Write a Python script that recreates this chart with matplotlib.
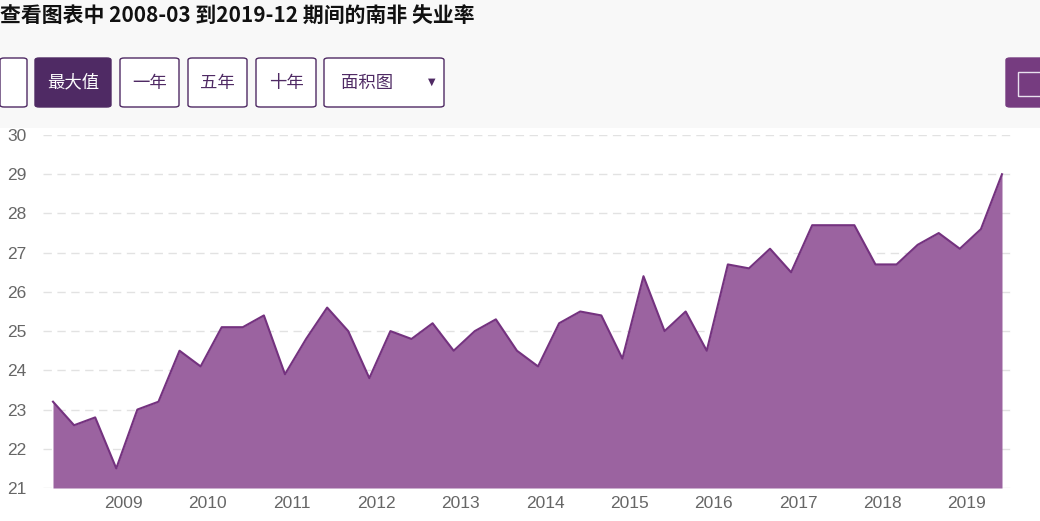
import matplotlib.pyplot as plt
from matplotlib.patches import FancyBboxPatch, Rectangle

plt.rcParams['font.family'] = ['Noto Sans CJK SC', 'DejaVu Sans']

# quarterly unemployment rate, South Africa, 2008Q1 .. 2019Q2
start_year, start_month = 2008, 3
rates = [23.2, 22.6, 22.8, 21.5, 23.0, 23.2, 24.5, 24.1,
         25.1, 25.1, 25.4, 23.9, 24.8, 25.6, 25.0, 23.8,
         25.0, 24.8, 25.2, 24.5, 25.0, 25.3, 24.5, 24.1,
         25.2, 25.5, 25.4, 24.3, 26.4, 25.0, 25.5, 24.5,
         26.7, 26.6, 27.1, 26.5, 27.7, 27.7, 27.7, 26.7,
         26.7, 27.2, 27.5, 27.1, 27.6, 29.0]
year_ticks = list(range(2009, 2020))
y_ticks = list(range(21, 31))
title = "查看图表中 2008-03 到2019-12 期间的南非 失业率"
buttons = ["最大值", "一年", "五年", "十年"]

# decimal-year position for each quarter
x = [start_year + (start_month - 1 + 3 * i) / 12 for i in range(len(rates))]

W, H = 1040, 521
fig = plt.figure(figsize=(W / 100, H / 100), dpi=100)
fig.patch.set_facecolor('#f8f8f8')

def px(x0, y0, w, h):
    # pixel box (top-left origin) -> figure fraction
    return x0 / W, 1 - (y0 + h) / H, w / W, h / H

# white chart panel
fig.patches.append(Rectangle(px(0, 128, W, H - 128)[:2], 1, (H - 128) / H,
                             transform=fig.transFigure, facecolor='white',
                             edgecolor='none', zorder=-5))

fig.text(0, 1 - 15 / H, title, fontsize=15, fontweight='bold',
         va='center', ha='left', color='#111111')

def button(x0, w, label, filled=False, color='#4f2a64'):
    bx, by, bw, bh = px(x0, 58, w, 49)
    fig.patches.append(FancyBboxPatch((bx, by), bw, bh,
                                      boxstyle='round,pad=0,rounding_size=0.004',
                                      transform=fig.transFigure,
                                      facecolor=color if filled else 'white',
                                      edgecolor=color, linewidth=1.0, zorder=1))
    if label:
        fig.text(bx + bw / 2, by + bh / 2, label, fontsize=12.5,
                 color='white' if filled else '#4f2a64',
                 ha='center', va='center', zorder=2)

button(0, 27, '')
button(35, 76, buttons[0], filled=True)
button(120, 59, buttons[1])
button(188, 59, buttons[2])
button(256, 60, buttons[3])
# dropdown
bx, by, bw, bh = px(324, 58, 120, 49)
fig.patches.append(FancyBboxPatch((bx, by), bw, bh,
                                  boxstyle='round,pad=0,rounding_size=0.004',
                                  transform=fig.transFigure, facecolor='white',
                                  edgecolor='#4f2a64', linewidth=1.0, zorder=1))
fig.text(367 / W, by + bh / 2, "面积图", fontsize=12.5, color='#4f2a64',
         ha='center', va='center')
fig.text(432 / W, by + bh / 2 + 0.002, "▼", fontsize=7, color='#4f2a64',
         ha='center', va='center', family='DejaVu Sans')
# right-hand button
button(1006, 40, '', filled=True, color='#763c80')
sx, sy, sw, sh = px(1018, 72, 30, 24)
fig.patches.append(Rectangle((sx, sy), sw, sh, transform=fig.transFigure,
                             facecolor='none', edgecolor='#e8e0ee',
                             linewidth=1.0, zorder=3))

# chart
ax = fig.add_axes(px(43, 135, 968, 353))
ax.set_zorder(2)
ax.set_facecolor('none')
ax.fill_between(x, rates, 21, color='#9b63a0', linewidth=0, zorder=2)
ax.plot(x, rates, color='#74327f', linewidth=1.5, zorder=3)

ax.set_xlim(x[0] - 10 / 84.36, x[-1] + 9 / 84.36)
ax.set_ylim(21, 30)
ax.set_yticks(y_ticks)
ax.set_xticks(year_ticks)
ax.set_xticklabels([str(y) for y in year_ticks])
ax.grid(axis='y', color='#e2e2e2', linestyle=(0, (6, 4)), linewidth=1.0, zorder=1)
ax.grid(axis='x', visible=False)
for s in ax.spines.values():
    s.set_visible(False)
ax.tick_params(axis='both', length=0, labelsize=12.5, colors='#666666')
ax.tick_params(axis='y', pad=12)
ax.tick_params(axis='x', pad=6)
for lab in ax.get_xticklabels() + ax.get_yticklabels():
    lab.set_family(['Liberation Sans', 'DejaVu Sans'])

fig.savefig('out.png', dpi=100, facecolor=fig.get_facecolor())
